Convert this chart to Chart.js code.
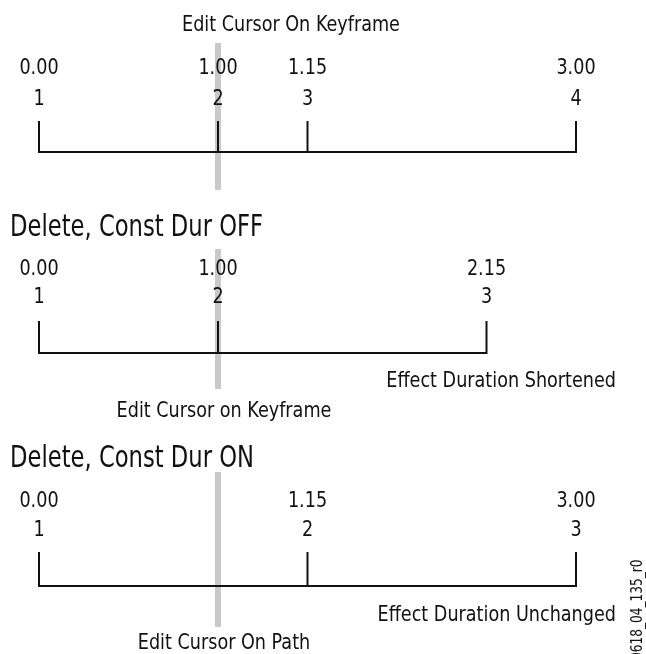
<!DOCTYPE html>
<html>
<head>
<meta charset="utf-8">
<script src="https://cdn.jsdelivr.net/npm/chart.js@4/dist/chart.umd.min.js"></script>
<style>
  html, body { margin: 0; padding: 0; background: #fff; }
  #wrap { width: 646px; height: 654px; position: relative; }
</style>
</head>
<body>
<div id="wrap"><canvas id="graf"></canvas></div>
<script>
// keyframe times (seconds.frames) for each timeline
const times1 = ['0.00', '1.00', '1.15', '3.00']
const times2 = ['0.00', '1.00', '2.15']
const times3 = ['0.00', '1.15', '3.00']
const keys1 = ['1', '2', '3', '4']
const keys2 = ['1', '2', '3']
const keys3 = ['1', '2', '3']
const cursorTimes = ['1.00', '1.00', '1.00']
const sectionTitles = ['', 'Delete, Const Dur OFF', 'Delete, Const Dur ON']
const cursorLabels = ['Edit Cursor On Keyframe', 'Edit Cursor on Keyframe', 'Edit Cursor On Path']
const durationLabels = ['', 'Effect Duration Shortened', 'Effect Duration Unchanged']
const figureId = '0618_04_135_r0'

const FPS = 30
const toSec = tc => { const [s, f] = tc.split('.'); return +s + (+f) / FPS }

// vertical layout of each row (in canvas px)
const rows = [
  { title: 0, time: 68, key: 99, top: 122, base: 152, curTop: 43, curBot: 190, curLabel: 25, durLabel: 0 },
  { title: 228, time: 269, key: 297, top: 322, base: 353, curTop: 249, curBot: 389, curLabel: 411, durLabel: 381 },
  { title: 459, time: 501, key: 530, top: 553, base: 586, curTop: 472, curBot: 627, curLabel: 643, durLabel: 615 }
]
const timeSets = [times1, times2, times3]
const keySets = [keys1, keys2, keys3]

const FONT = "'Liberation Sans Narrow', 'DejaVu Sans Condensed', 'Roboto', sans-serif"

const datasets = []
timeSets.forEach((ts, i) => {
  const r = rows[i]
  const xs = ts.map(toSec)
  const first = xs[0], last = xs[xs.length - 1]
  const pts = [
    { x: first, y: r.top }, { x: first, y: r.base },
    { x: last, y: r.base }, { x: last, y: r.top }, { x: last, y: null }
  ]
  xs.slice(1, -1).forEach(x => {
    pts.push({ x: x, y: r.base }, { x: x, y: r.top }, { x: x, y: null })
  })
  datasets.push({
    label: 'timeline' + (i + 1),
    data: pts,
    borderColor: '#111',
    borderWidth: 2,
    borderJoinStyle: 'miter',
    borderCapStyle: 'square',
    pointRadius: 0,
    showLine: true,
    spanGaps: false,
    clip: false,
    order: 1
  })
  const c = toSec(cursorTimes[i])
  datasets.push({
    label: 'cursor' + (i + 1),
    data: [{ x: c, y: r.curTop }, { x: c, y: r.curBot }],
    borderColor: '#c9c9c9',
    borderWidth: 6,
    borderCapStyle: 'butt',
    pointRadius: 0,
    showLine: true,
    clip: false,
    order: 2
  })
})

function text(ctx, str, x, y, size, align, sx) {
  ctx.save()
  ctx.font = size + 'px ' + FONT
  ctx.textBaseline = 'middle'
  ctx.textAlign = align
  ctx.translate(x, y)
  ctx.scale(sx, 1)
  ctx.fillText(str, 0, 0)
  ctx.restore()
}

const labelsPlugin = {
  id: 'labels',
  afterDatasetsDraw(chart) {
    const ctx = chart.ctx
    const xs = chart.scales.x
    ctx.fillStyle = '#111'
    timeSets.forEach((ts, i) => {
      const r = rows[i]
      ts.forEach((t, j) => {
        const px = xs.getPixelForValue(toSec(t))
        text(ctx, t, px, r.time, 22, 'center', 0.89)
        text(ctx, keySets[i][j], px, r.key, 22, 'center', 0.89)
      })
      if (sectionTitles[i]) text(ctx, sectionTitles[i], 10, r.title, 30, 'left', 0.84)
      const cx = xs.getPixelForValue(toSec(cursorTimes[i]))
      text(ctx, cursorLabels[i], cx + (i === 0 ? 73 : 6), r.curLabel, 22, 'center', 0.89)
      if (durationLabels[i]) text(ctx, durationLabels[i], 616, r.durLabel, 22, 'right', 0.89)
    })
    ctx.save()
    ctx.translate(638, 660)
    ctx.rotate(-Math.PI / 2)
    text(ctx, figureId, 0, 0, 15, 'left', 0.9)
    ctx.restore()
  }
}

new Chart(document.getElementById('graf'), {
  type: 'scatter',
  data: { datasets: datasets },
  options: {
    responsive: true,
    maintainAspectRatio: false,
    animation: false,
    layout: { padding: { left: 39, right: 70, top: 0, bottom: 0 } },
    scales: {
      x: { type: 'linear', min: 0, max: 3, display: false },
      y: { type: 'linear', min: 0, max: 654, reverse: true, display: false }
    },
    plugins: { legend: { display: false }, tooltip: { enabled: false } }
  },
  plugins: [labelsPlugin]
})
</script>
</body>
</html>
